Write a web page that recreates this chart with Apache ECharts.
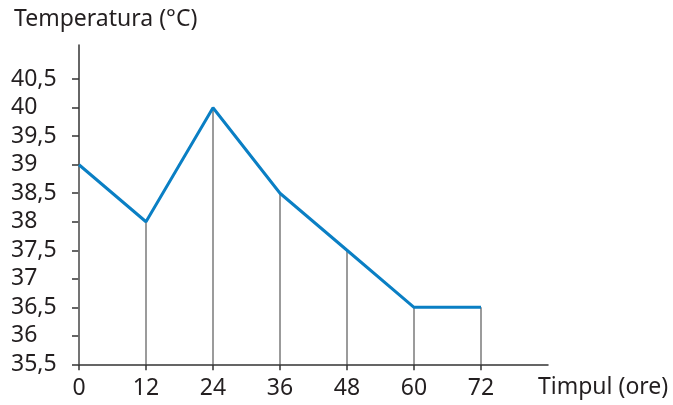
<!DOCTYPE html>
<html><head><meta charset="utf-8">
<script src="https://cdn.jsdelivr.net/npm/echarts@6/dist/echarts.min.js"></script>
<style>html,body{margin:0;padding:0;background:#fff}#c{width:673px;height:405px}</style>
</head><body><div id="c"></div>
<script>
const hours = [0, 12, 24, 36, 48, 60, 72];
const temperatures = [39, 38, 40, 38.5, 37.5, 36.5, 36.5];
const yTicks = [35.5, 36, 36.5, 37, 37.5, 38, 38.5, 39, 39.5, 40, 40.5];
const xTicks = [0, 12, 24, 36, 48, 60, 72];
const yTitle = 'Temperatura (°C)';
const xTitle = 'Timpul (ore)';

const FONT = 'Noto Sans';
const TXT = '#231f20';
const pts = hours.map((h, i) => [h, temperatures[i]]);
const chart = echarts.init(document.getElementById('c'), null, {renderer: 'canvas'});
chart.setOption({
  animation: false,
  title: [
    {text: yTitle, left: 9, top: 3, textStyle: {fontFamily: FONT, fontSize: 23, fontWeight: 'normal', color: TXT}},
    {text: xTitle, left: 533, top: 371, textStyle: {fontFamily: FONT, fontSize: 23, fontWeight: 'normal', color: TXT}}
  ],
  grid: {left: 79, right: 125, top: 45, bottom: 40.7, containLabel: false},
  xAxis: {
    type: 'value', min: 0, max: 84,
    axisLine: {show: true, lineStyle: {color: '#333', width: 1.5}},
    axisTick: {show: true, length: 6, customValues: xTicks, lineStyle: {color: '#333', width: 1.5}},
    axisLabel: {customValues: xTicks, fontFamily: FONT, fontSize: 23, color: TXT, margin: 13},
    splitLine: {show: false}
  },
  yAxis: {
    type: 'value', min: 35.5, max: 41.1,
    axisLine: {show: true, lineStyle: {color: '#333', width: 1.5}},
    axisTick: {show: true, length: 7, customValues: yTicks, lineStyle: {color: '#333', width: 1.5}},
    axisLabel: {customValues: yTicks, fontFamily: FONT, fontSize: 23, color: TXT, align: 'left', margin: 68,
      padding: [8, 0, 0, 0],
      formatter: v => String(v).replace('.', ',')},
    splitLine: {show: false}
  },
  series: [
    {type: 'bar', data: pts, barWidth: 1.5, itemStyle: {color: '#7a7a7a'}, z: 1, silent: true},
    {type: 'line', data: pts, symbol: 'none', lineStyle: {color: '#0a7fc4', width: 3}, z: 3}
  ]
});
</script></body></html>
